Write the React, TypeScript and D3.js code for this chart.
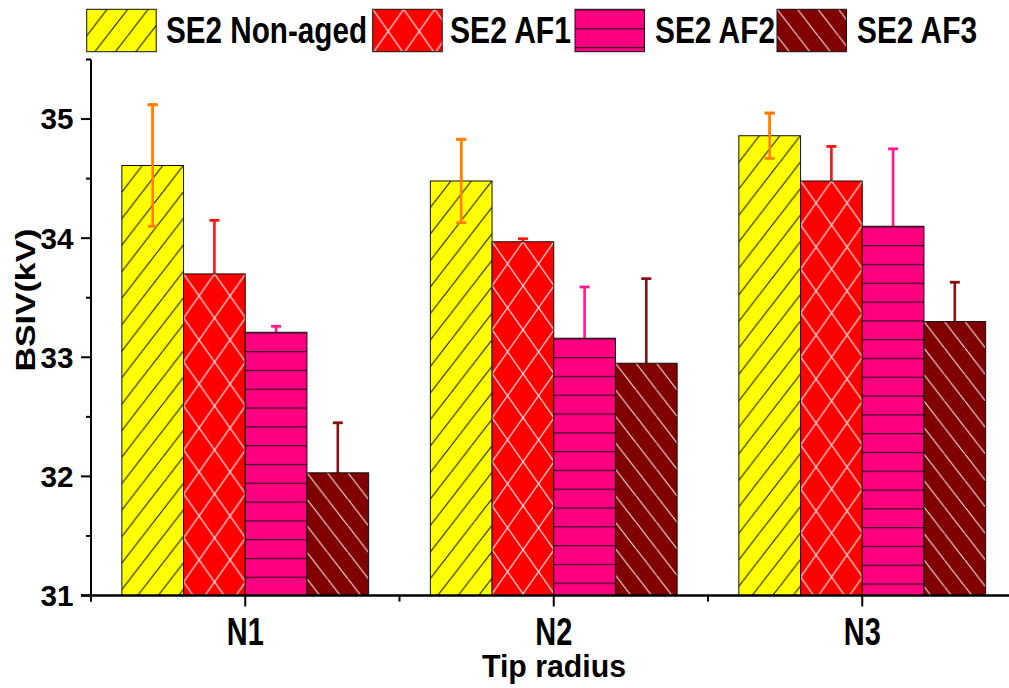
import React from "react";
import * as d3 from "d3";

const categories = ["N1", "N2", "N3"];
const seriesNames = ["SE2 Non-aged", "SE2 AF1", "SE2 AF2", "SE2 AF3"];
const nonAged = [34.61, 34.48, 34.86];
const nonAgedErr = [0.51, 0.35, 0.19];
const af1 = [33.7, 33.97, 34.48];
const af1Err = [0.45, 0.025, 0.29];
const af2 = [33.21, 33.16, 34.1];
const af2Err = [0.05, 0.43, 0.65];
const af3 = [32.03, 32.95, 33.3];
const af3Err = [0.42, 0.71, 0.33];
const yTicks = [31, 32, 33, 34, 35];
const yMinorTicks = [31.5, 32.5, 33.5, 34.5, 35.5];
const xTitle = "Tip radius";
const yTitle = "BSIV(kV)";

const seriesValues = [nonAged, af1, af2, af3];
const seriesErrors = [nonAgedErr, af1Err, af2Err, af3Err];
const fills = ["#FFFF00", "#FF0000", "#FF0080", "#800000"];
const errColors = ["#FF8000", "#FF1010", "#FF1A8C", "#8B1010"];
const legendX = [86.7, 372.7, 575, 777];
const legendTextX = [166, 450, 655, 857];
const legendTextW = [201, 121, 120, 120];

const W = 1009;
const H = 688;
const FONT = "'Liberation Sans Narrow', 'Liberation Sans', Arial, sans-serif";

function patternFor(si: number, id: string, x: number, y: number) {
  if (si === 0) {
    const w = 20.5, h = 26.5;
    return (
      <pattern key={id} id={id} patternUnits="userSpaceOnUse" x={x} y={y} width={w} height={h}>
        <rect width={w} height={h} fill={fills[0]} />
        <path d={`M0,${h}L${w},0M${-w},${h}L0,0M${w},${h}L${2 * w},0`} stroke="#000" strokeWidth={1} />
      </pattern>
    );
  }
  if (si === 1) {
    const w = 31, h = 44;
    return (
      <pattern key={id} id={id} patternUnits="userSpaceOnUse" x={x} y={y} width={w} height={h}>
        <rect width={w} height={h} fill={fills[1]} />
        <path
          d={`M0,0L${w},${h}M0,${h}L${w},0M${-w},${-h}L0,0M${w},${h}L${2 * w},${2 * h}M${-w},${2 * h}L0,${h}M${w},0L${2 * w},${-h}`}
          stroke="#FFE8E8"
          strokeWidth={1.2}
        />
      </pattern>
    );
  }
  if (si === 2) {
    const w = 40, h = 18.8;
    return (
      <pattern key={id} id={id} patternUnits="userSpaceOnUse" x={x} y={y} width={w} height={h}>
        <rect width={w} height={h} fill={fills[2]} />
        <path d={`M0,0.3L${w},0.3`} stroke="#3a0020" strokeWidth={1.8} />
      </pattern>
    );
  }
  const w = 20.5, h = 26.5;
  return (
    <pattern key={id} id={id} patternUnits="userSpaceOnUse" x={x} y={y} width={w} height={h}>
      <rect width={w} height={h} fill={fills[3]} />
      <path d={`M0,0L${w},${h}M${-w},${-h}L0,0M${w},${h}L${2 * w},${2 * h}`} stroke="#fff" strokeWidth={1} />
    </pattern>
  );
}

export default function App() {
  const y = d3.scaleLinear().domain([31, 35.5]).range([595.5, 59.5]);
  const x0 = d3.scaleBand<string>().domain(categories).range([91, 1016.5]).paddingInner(0.2).paddingOuter(0.1);
  const x1 = d3.scaleBand<number>().domain(d3.range(seriesNames.length)).range([0, x0.bandwidth()]);
  const axisX = 91;
  const base = y(31);

  const boundaries = [0, 1, 2, 3].map((i) => 91 + i * x0.step());

  const bars: any[] = [];
  const defs: any[] = [];
  categories.forEach((c, ci) => {
    seriesNames.forEach((_, si) => {
      const v = seriesValues[si][ci];
      const bx = (x0(c) as number) + (x1(si) as number);
      const by = y(v);
      const id = `pat-${si}-${ci}`;
      defs.push(patternFor(si, id, bx, by));
      bars.push({ si, ci, bx, by, bw: x1.bandwidth(), bh: base - by, id, v, e: seriesErrors[si][ci] });
    });
  });

  const legendY = 9.3, legendH = 42.4, legendW = 69.5;
  seriesNames.forEach((_, si) => {
    defs.push(patternFor(si, `leg-${si}`, legendX[si], legendY));
  });

  return (
    <svg width={W} height={H} style={{ position: "absolute", left: 0, top: 0, background: "#fff" }} fontFamily={FONT}>
      <defs>{defs}</defs>
      <rect width={W} height={H} fill="#fff" />

      {/* error bars (lower parts hidden behind bars) */}
      {bars.map((b) => {
        const cx = b.bx + b.bw / 2;
        const top = y(b.v + b.e);
        const bot = y(b.v - b.e);
        return (
          <g key={`eb-${b.id}`} stroke={errColors[b.si]} strokeWidth={2.6}>
            <line x1={cx} x2={cx} y1={top} y2={bot} />
            <line x1={cx - 5} x2={cx + 5} y1={top} y2={top} strokeWidth={2.8} />
          </g>
        );
      })}

      {/* bars */}
      {bars.map((b) => (
        <rect key={b.id} x={b.bx} y={b.by} width={b.bw} height={b.bh} fill={`url(#${b.id})`} stroke="#111" strokeWidth={1} />
      ))}

      {/* yellow error bars drawn above */}
      {bars
        .filter((b) => b.si === 0)
        .map((b) => {
          const cx = b.bx + b.bw / 2;
          const top = y(b.v + b.e);
          const bot = y(b.v - b.e);
          return (
            <g key={`eb2-${b.id}`} stroke={errColors[0]} strokeWidth={2.6}>
              <line x1={cx} x2={cx} y1={top} y2={bot} />
              <line x1={cx - 5} x2={cx + 5} y1={top} y2={top} strokeWidth={2.8} />
              <line x1={cx - 5} x2={cx + 5} y1={bot} y2={bot} strokeWidth={2.8} />
            </g>
          );
        })}

      {/* y axis */}
      <line x1={axisX} x2={axisX} y1={59.5} y2={base + 6} stroke="#000" strokeWidth={2} />
      {yTicks.map((t) => (
        <g key={`yt-${t}`}>
          <line x1={axisX - 10} x2={axisX} y1={y(t)} y2={y(t)} stroke="#000" strokeWidth={2} />
          <text x={73.5} y={y(t)} dy="0.36em" textAnchor="end" fontSize={29} fontWeight="bold" textLength={33} lengthAdjust="spacingAndGlyphs" fill="#000">
            {t}
          </text>
        </g>
      ))}
      {yMinorTicks.map((t) => (
        <line key={`ym-${t}`} x1={axisX - 5} x2={axisX} y1={y(t)} y2={y(t)} stroke="#000" strokeWidth={2} />
      ))}

      {/* x axis */}
      <line x1={axisX - 10} x2={W} y1={base} y2={base} stroke="#000" strokeWidth={2.4} />
      {categories.map((c) => {
        const cx = (x0(c) as number) + x0.bandwidth() / 2;
        return (
          <g key={`xt-${c}`}>
            <line x1={cx} x2={cx} y1={base} y2={base + 11} stroke="#000" strokeWidth={2} />
            <text x={cx} y={645} textAnchor="middle" fontSize={38} fontWeight="bold" textLength={37} lengthAdjust="spacingAndGlyphs" fill="#000">
              {c}
            </text>
          </g>
        );
      })}
      {boundaries.map((bx, i) => (
        <line key={`xm-${i}`} x1={bx} x2={bx} y1={base} y2={base + 6} stroke="#000" strokeWidth={2} />
      ))}

      {/* axis titles */}
      <text x={554} y={677} textAnchor="middle" fontSize={32} fontWeight="bold" textLength={144} lengthAdjust="spacingAndGlyphs" fill="#000">
        {xTitle}
      </text>
      <text
        transform={`translate(35,300) rotate(-90)`}
        textAnchor="middle"
        fontSize={27}
        fontWeight="bold"
        textLength={143}
        lengthAdjust="spacingAndGlyphs"
        fill="#000"
      >
        {yTitle}
      </text>

      {/* legend */}
      {seriesNames.map((s, si) => (
        <g key={`leg-${si}`}>
          <rect x={legendX[si]} y={legendY} width={legendW} height={legendH} fill={`url(#leg-${si})`} stroke="#111" strokeWidth={1} />
          <text x={legendTextX[si]} y={42.7} fontSize={37} fontWeight="bold" textLength={legendTextW[si]} lengthAdjust="spacingAndGlyphs" fill="#000">
            {s}
          </text>
        </g>
      ))}
    </svg>
  );
}
